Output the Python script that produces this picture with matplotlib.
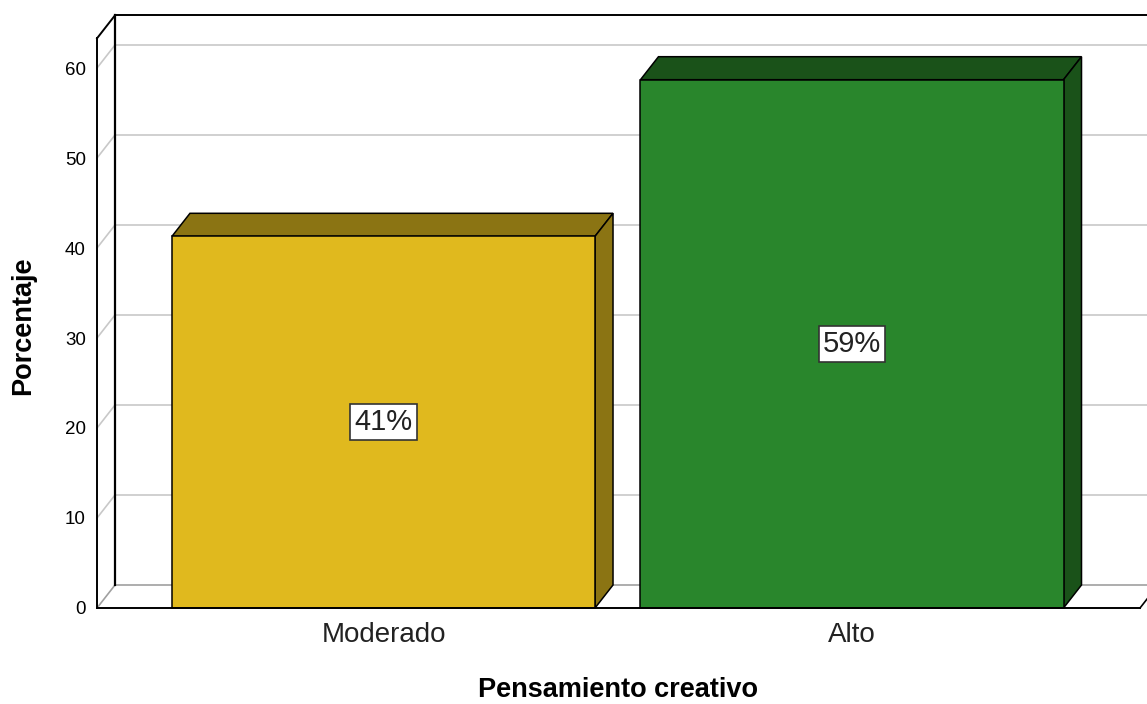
import matplotlib.pyplot as plt
from matplotlib.patches import Polygon

plt.rcParams['font.family'] = ['Liberation Sans', 'DejaVu Sans']

categories = ['Moderado', 'Alto']
values = [41.3, 58.7]
labels = ['41%', '59%']
front_colors = ['#E0B91E', '#29862C']
dark_colors = ['#8B7413', '#1A5219']
yticks = [0, 10, 20, 30, 40, 50, 60]

fig = plt.figure(figsize=(11.47, 7.04), dpi=100)
ax = fig.add_axes([0, 0, 1, 1])
ax.set_xlim(-0.8186, 1.6297)
ax.set_ylim(-10.667, 67.556)

# 3d box geometry (data units)
x0, x1 = -0.6115, 1.6148
ytop = 63.3
dx, dy = 0.0384, 2.556
width = 0.903
grid_c = '#C8C8C8'

# back wall grid + left wall diagonals
for t in yticks[1:]:
    ax.plot([x0 + dx, 2.0], [t + dy, t + dy], color=grid_c, lw=1.2, zorder=1)
    ax.plot([x0, x0 + dx], [t, t + dy], color=grid_c, lw=1.2, zorder=1)
ax.plot([x0 + dx, 2.0], [dy, dy], color='#A0A0A0', lw=1.2, zorder=1)
ax.plot([x0, x0 + dx], [0, dy], color='#A0A0A0', lw=1.2, zorder=1)

# frame edges
ax.plot([x0 + dx, x0 + dx], [dy, ytop + dy], color='black', lw=1.6, zorder=2)
ax.plot([x0, x0 + dx], [ytop, ytop + dy], color='black', lw=1.4, zorder=2)
ax.plot([x0 + dx, 2.0], [ytop + dy, ytop + dy], color='black', lw=1.4, zorder=2)
ax.plot([x1, x1 + dx], [0, dy], color='black', lw=1.2, zorder=2)

# bars
xs = list(range(len(categories)))
ax.bar(xs, values, width=width, color=front_colors, edgecolor='black',
       linewidth=1.1, zorder=4)
for x, v, dc in zip(xs, values, dark_colors):
    l, r = x - width / 2, x + width / 2
    top = Polygon([(l, v), (l + dx, v + dy), (r + dx, v + dy), (r, v)],
                  closed=True, facecolor=dc, edgecolor='black', lw=1.1, zorder=3)
    side = Polygon([(r, 0), (r, v), (r + dx, v + dy), (r + dx, dy)],
                   closed=True, facecolor=dc, edgecolor='black', lw=1.1, zorder=3)
    ax.add_patch(top)
    ax.add_patch(side)

for x, v, lab in zip(xs, values, labels):
    ax.text(x, v / 2, lab, ha='center', va='center', fontsize=21, zorder=6,
            color='#222222',
            bbox=dict(boxstyle='square,pad=0.14', fc='white', ec='#333333', lw=1.2))

# axes spines act as front edges
for s in ['top', 'right']:
    ax.spines[s].set_visible(False)
ax.spines['left'].set_position(('data', x0))
ax.spines['left'].set_bounds(0, ytop)
ax.spines['left'].set_linewidth(1.4)
ax.spines['bottom'].set_position(('data', 0))
ax.spines['bottom'].set_bounds(x0, x1)
ax.spines['bottom'].set_linewidth(1.4)
ax.spines['bottom'].set_zorder(5)

ax.set_yticks(yticks)
ax.set_xticks(xs)
ax.set_xticklabels(categories)
ax.tick_params(axis='y', length=0, pad=8, labelsize=13.5)
ax.tick_params(axis='x', length=0, pad=10, labelsize=20, labelcolor='#222222')

ax.set_xlabel('Pensamiento creativo', fontsize=19.5, fontweight='bold', va='center')
ax.xaxis.set_label_coords(0.5392, 0.0199)
ax.set_ylabel('Porcentaje', fontsize=19.5, fontweight='bold', va='center')
ax.yaxis.set_label_coords(0.0205, 0.5376)

fig.savefig('out.png', dpi=100)
